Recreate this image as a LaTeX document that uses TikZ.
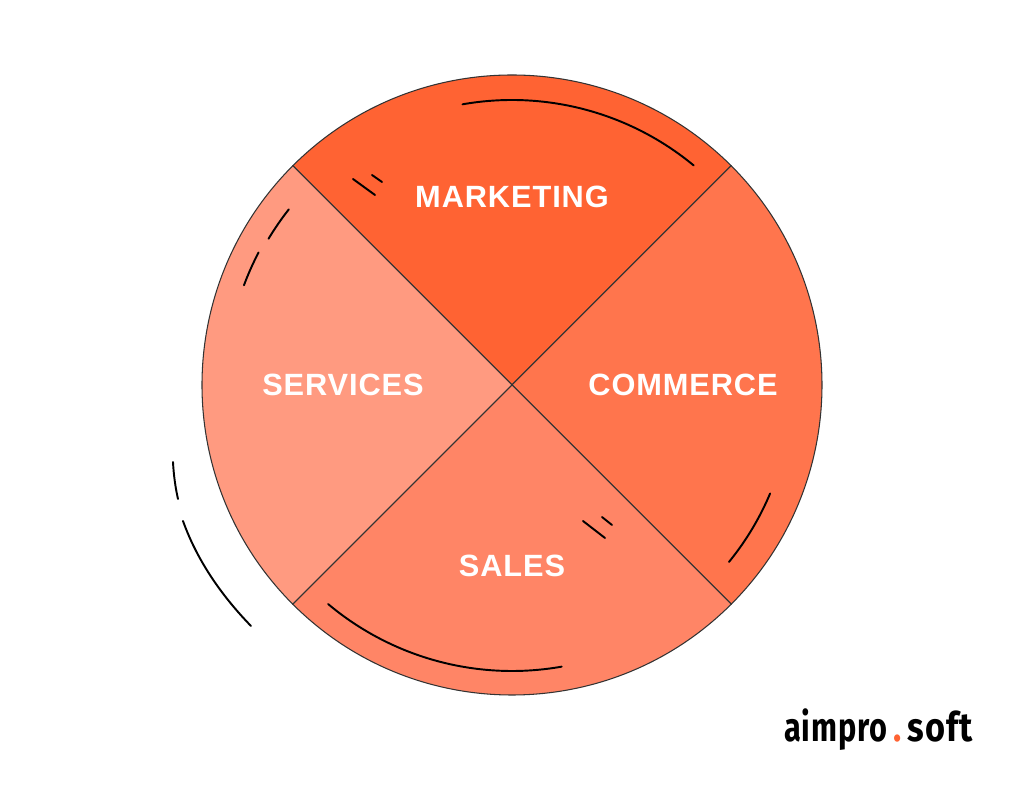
\documentclass[tikz,border=0pt]{standalone}
\usepackage{fontspec}
\setmainfont{Liberation Sans}
\newfontfamily\labelfont[LetterSpace=3]{Liberation Sans}
\newfontfamily\logofont[LetterSpace=3]{Fira Sans}
\definecolor{marketingc}{HTML}{FF6333}
\definecolor{commercec}{HTML}{FF754D}
\definecolor{salesc}{HTML}{FF8566}
\definecolor{servicesc}{HTML}{FF9A80}
\definecolor{logodot}{HTML}{FF6333}
\tikzset{
    sector/.style={draw=black!80, line width=0.6pt},
    mark line/.style={draw=black, line width=1.1pt, line cap=round},
    sector label/.style={text=white, font=\labelfont\fontsize{17.5}{17.5}\selectfont\bfseries, inner sep=0pt}
}

\begin{document}
\begin{tikzpicture}[x=0.02cm, y=0.02cm]
\useasboundingbox (-512, -401) rectangle (512, 385);

% Sectors
\draw[sector, fill=marketingc] (0, 0) -- (135:310) arc (135:45:310) -- cycle;
\draw[sector, fill=commercec] (0, 0) -- (45:310) arc (45:-45:310) -- cycle;
\draw[sector, fill=salesc] (0, 0) -- (-45:310) arc (-45:-135:310) -- cycle;
\draw[sector, fill=servicesc] (0, 0) -- (-135:310) arc (-135:-225:310) -- cycle;

% Labels
\node[sector label] (MARKETING) at (0, 188) {MARKETING};
\node[sector label] (COMMERCE) at (171, 0) {COMMERCE};
\node[sector label] (SALES) at (0, -181) {SALES};
\node[sector label] (SERVICES) at (-169, 0) {SERVICES};

% Long marks
\draw[mark line] (100:285) arc (100:50.4:285);
\draw[mark line] (-22.8:280) arc (-22.8:-39.2:280);
\draw[mark line] (230:286) arc (230:280:286);
\draw[mark line] (149:284) arc (149:141.8:284);
\draw[mark line] (152.4:286) arc (152.4:159.6:286);
\draw[mark line] (-339, -77) .. controls (-338.3, -90) and (-336.7, -102) .. (-334, -114);
\draw[mark line] (-329, -136) .. controls (-315.7, -173) and (-293, -208) .. (-261, -241);

% Short marks
\draw[mark line] (-159, 206) -- (-137, 190);
\draw[mark line] (-140, 210) -- (-130, 203);
\draw[mark line] (71, -136) -- (93, -153);
\draw[mark line] (90, -132) -- (100, -140);

% Logo
\node[inner sep=0pt, anchor=base east, font=\logofont\fontsize{23}{23}\selectfont\bfseries] (LOGO) at (461, -357) {\scalebox{0.76}[1]{aimpro}\scalebox{0.85}[1]{\,\textcolor{logodot}{.}\,soft}};
\end{tikzpicture}
\end{document}
